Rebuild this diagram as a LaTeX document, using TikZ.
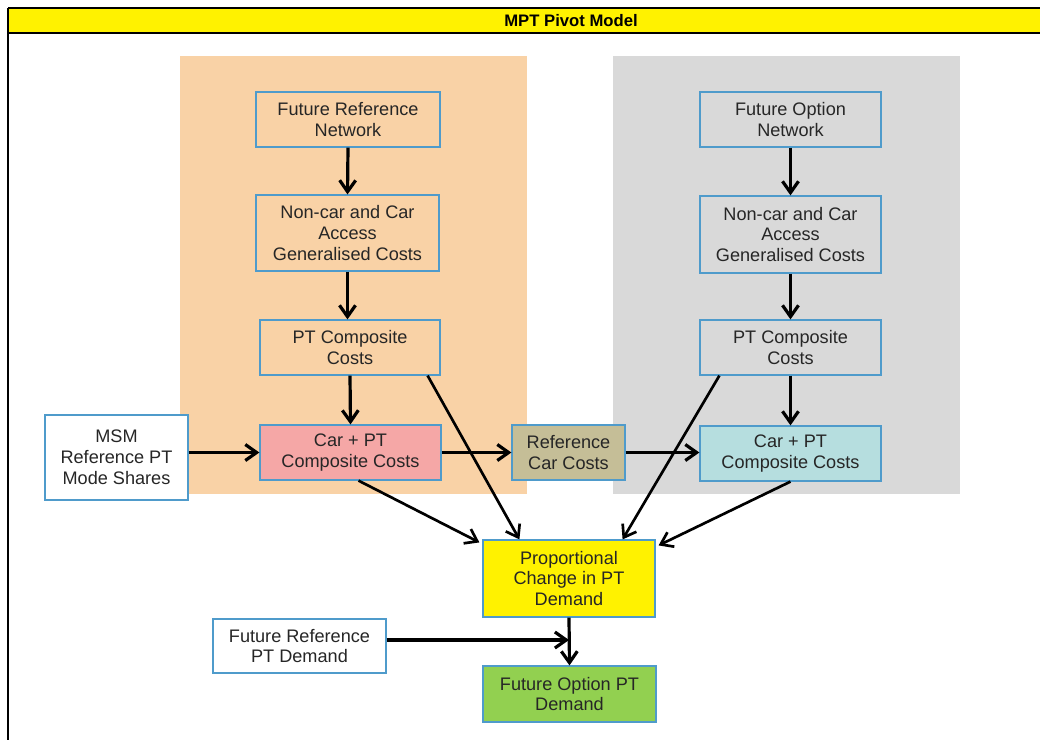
\documentclass[tikz,border=0pt]{standalone}
\usepackage{fontspec}
\setmainfont{Liberation Sans}
\usetikzlibrary{arrows.meta,calc}
\definecolor{peach}{HTML}{F9D2A6}
\definecolor{panelgray}{HTML}{D9D9D9}
\definecolor{boxline}{HTML}{4F9BCB}
\definecolor{pinkfill}{HTML}{F5A7A6}
\definecolor{khaki}{HTML}{C5BE97}
\definecolor{cyanfill}{HTML}{B6DEDF}
\definecolor{greenfill}{HTML}{92D050}
\definecolor{txt}{HTML}{262626}
\tikzset{
  bx/.style 2 args={draw=boxline, line width=0.9pt, text=txt, align=center,
    inner sep=0pt, minimum width=#1*0.75pt, minimum height=#2*0.75pt,
    font=\fontsize{13.6}{15.6}\selectfont},
  arr/.style={draw=black, line width=2.4pt, -{Straight Barb[length=8.5pt,width=12pt]}},
  darr/.style={draw=black, line width=2pt, -{Straight Barb[length=8.5pt,width=12pt]}},
}
\begin{document}
\begin{tikzpicture}[x=0.75pt,y=-0.75pt]
\useasboundingbox (0,0) rectangle (1040,740);
% frame and title bar
\fill[yellow] (8,8) rectangle (1040,33);
\draw[line width=1.5pt] (8,8) -- (1040,8);
\draw[line width=2.2pt] (8,33) -- (1040,33);
\draw[line width=1.2pt] (8,8) -- (8,740);
\node[font=\bfseries\fontsize{12.5}{14}\selectfont, inner sep=0pt] (title) at (571,20.5) {MPT Pivot Model};
% panels
\fill[peach] (180,56) rectangle (527,494);
\fill[panelgray] (613,56) rectangle (960,494);
% boxes
\node[bx={184}{55}] (A) at (348,119.5) {Future Reference\\Network};
\node[bx={183}{76}] (B) at (347.5,233) {Non-car and Car\\Access\\Generalised Costs};
\node[bx={180}{55}] (C) at (350,347.5) {PT Composite\\Costs};
\node[bx={181}{55}, fill=pinkfill] (D) at (350.5,452.5) {Car + PT\\Composite Costs};
\node[bx={143}{85}, fill=white] (M) at (116.5,457.5) {MSM\\Reference PT\\Mode Shares};
\node[bx={113}{55}, fill=khaki] (R) at (568.5,452.5) {Reference\\Car Costs};
\node[bx={181}{55}] (E) at (790.5,119.5) {Future Option\\Network};
\node[bx={181}{77}] (F) at (790.5,234.5) {Non-car and Car\\Access\\Generalised Costs};
\node[bx={181}{55}] (G) at (790.5,347.5) {PT Composite\\Costs};
\node[bx={181}{55}, fill=cyanfill] (H) at (790.5,453.5) {Car + PT\\Composite Costs};
\node[bx={172}{77}, fill=yellow] (P) at (569,578.5) {Proportional\\Change in PT\\Demand};
\node[bx={173}{54}, fill=white] (Q) at (299.5,646) {Future Reference\\PT Demand};
\node[bx={173}{56}, fill=greenfill] (O) at (569.5,694) {Future Option PT\\Demand};
\coordinate (j) at (569,640);
% connectors
\draw[arr] (A.south) -- (B.south |- B.north);
\draw[arr] (B.south) -- (B.south |- C.north);
\draw[arr] (C.south) -- (D.north);
\draw[arr] (D.west -| M.east) -- (D.west);
\draw[arr] (D.east) -- (R.west |- D.east);
\draw[arr] (R.east) -- (H.west |- R.east);
\draw[arr] (E.south) -- (F.north);
\draw[arr] (F.south) -- (G.north);
\draw[arr] (G.south) -- (H.north);
\draw[darr] ($(D.south)+(8,0)$) -- ($(P.north west)+(-3,3)$);
\draw[darr] ($(C.south east)+(-13,0)$) -- ($(P.north west)+(37,0)$);
\draw[darr] ($(G.south west)+(20,0)$) -- ($(P.north east)+(-33,0)$);
\draw[darr] (H.south) -- ($(P.north east)+(3,6)$);
\draw[arr] (Q.east |- j) -- (j);
\draw[arr] (P.south) -- (O.north);
\end{tikzpicture}
\end{document}
